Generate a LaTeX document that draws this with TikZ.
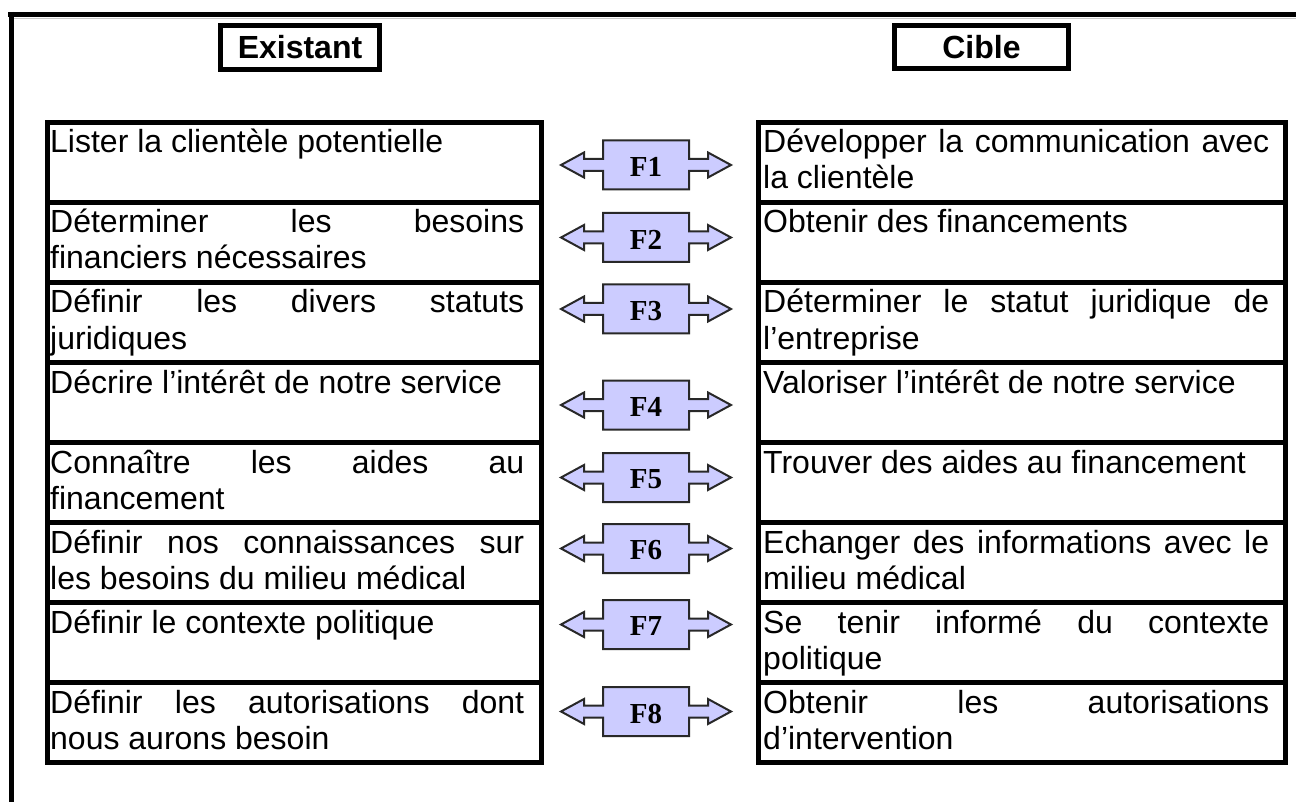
\documentclass[tikz,border=0pt]{standalone}
\usepackage{fontspec}
\setmainfont{Liberation Sans}
\newfontfamily\serifbold{Liberation Serif}
\definecolor{lav}{RGB}{204,204,255}
\definecolor{aline}{RGB}{40,40,40}
\hyphenpenalty=10000
\exhyphenpenalty=10000
\hbadness=10000
\tikzset{
  framerule/.style={line width=5pt, draw=black},
  hdrbox/.style={draw, line width=5pt, rectangle, inner sep=0pt,
     font=\fontsize{32}{36}\selectfont\bfseries},
  lcell/.style={draw, line width=5pt, rectangle, inner sep=0pt, anchor=north west,
     minimum width=494pt, minimum height=80pt},
  rcell/.style={draw, line width=5pt, rectangle, inner sep=0pt, anchor=north west,
     minimum width=527pt, minimum height=80pt},
  celltext/.style={inner sep=0pt, anchor=base west, font=\fontsize{32}{36}\selectfont},
  fshape/.style={fill=lav, draw=aline, line width=2pt, line join=miter},
  flabel/.style={inner sep=0pt, font=\serifbold\bfseries\fontsize{29}{29}\selectfont}
}
\newcommand\farrow[3]{%
  \begin{scope}[shift={(#2,#3)}]
    \draw[fshape] (-43,-24.5) -- (43,-24.5) -- (43,-6) -- (62,-6) -- (62,-12.5) -- (85,0)
      -- (62,12.5) -- (62,6) -- (43,6) -- (43,24.5) -- (-43,24.5) -- (-43,6) -- (-62,6)
      -- (-62,12.5) -- (-85,0) -- (-62,-12.5) -- (-62,-6) -- (-43,-6) -- cycle;
  \end{scope}
  \node[flabel] (#1) at (#2,#3+2) {#1};
}
\begin{document}
\begin{tikzpicture}[x=1pt,y=-1pt]
\useasboundingbox (0,0) rectangle (1296,802);
% outer frame (top and left only)
\coordinate (ftl) at (8,14.5);
\coordinate (ftr) at (1296,14.5);
\coordinate (flt) at (11,12);
\coordinate (flb) at (11,802);
\coordinate (gl) at (14,18.5);
\coordinate (gr) at (1296,18.5);
\draw[framerule] (ftl) -- (ftr);
\draw[framerule] (flt) -- (flb);
\draw[gray!45, line width=1pt] (gl) -- (gr);
% headers
\node[hdrbox, minimum width=159pt, minimum height=44pt] (hex) at (300,47.5) {Existant};
\node[hdrbox, minimum width=174pt, minimum height=43pt] (hci) at (981.5,47.5) {Cible};
% left cells
\node[lcell] (L1) at (44.5,120) {};
\node[lcell] (L2) at (44.5,200) {};
\node[lcell] (L3) at (44.5,280) {};
\node[lcell] (L4) at (44.5,360) {};
\node[lcell] (L5) at (44.5,440) {};
\node[lcell] (L6) at (44.5,520) {};
\node[lcell] (L7) at (44.5,600) {};
\node[lcell] (L8) at (44.5,680) {};
% right cells
\node[rcell] (R1) at (755.5,120) {};
\node[rcell] (R2) at (755.5,200) {};
\node[rcell] (R3) at (755.5,280) {};
\node[rcell] (R4) at (755.5,360) {};
\node[rcell] (R5) at (755.5,440) {};
\node[rcell] (R6) at (755.5,520) {};
\node[rcell] (R7) at (755.5,600) {};
\node[rcell] (R8) at (755.5,680) {};
% left texts
\node[celltext] (L1t) at (50,153) {\parbox[t]{474pt}{Lister la clientèle potentielle}};
\node[celltext] (L2t) at (50,233) {\parbox[t]{474pt}{Déterminer les besoins\linebreak financiers nécessaires}};
\node[celltext] (L3t) at (50,313) {\parbox[t]{474pt}{Définir les divers statuts\linebreak juridiques}};
\node[celltext] (L4t) at (50,393) {\parbox[t]{474pt}{Décrire l’intérêt de notre service}};
\node[celltext] (L5t) at (50,473) {\parbox[t]{474pt}{Connaître les aides au\linebreak financement}};
\node[celltext] (L6t) at (50,553) {\parbox[t]{474pt}{Définir nos connaissances sur\linebreak les besoins du milieu médical}};
\node[celltext] (L7t) at (50,633) {\parbox[t]{474pt}{Définir le contexte politique}};
\node[celltext] (L8t) at (50,713) {\parbox[t]{474pt}{Définir les autorisations dont\linebreak nous aurons besoin}};
% right texts
\node[celltext] (R1t) at (763,153) {\parbox[t]{506pt}{Développer la communication avec\linebreak la clientèle}};
\node[celltext] (R2t) at (763,233) {\parbox[t]{506pt}{Obtenir des financements}};
\node[celltext] (R3t) at (763,313) {\parbox[t]{506pt}{Déterminer le statut juridique de\linebreak l’entreprise}};
\node[celltext] (R4t) at (763,393) {\parbox[t]{506pt}{Valoriser l’intérêt de notre service}};
\node[celltext] (R5t) at (763,473) {\parbox[t]{506pt}{Trouver des aides au financement}};
\node[celltext] (R6t) at (763,553) {\parbox[t]{506pt}{Echanger des informations avec le\linebreak milieu médical}};
\node[celltext] (R7t) at (763,633) {\parbox[t]{506pt}{Se tenir informé du contexte\linebreak politique}};
\node[celltext] (R8t) at (763,713) {\parbox[t]{506pt}{Obtenir les autorisations\linebreak d’intervention}};
% double arrows
\farrow{F1}{646}{165}
\farrow{F2}{646}{237.5}
\farrow{F3}{646}{309}
\farrow{F4}{646}{405}
\farrow{F5}{646}{477.5}
\farrow{F6}{646}{548.5}
\farrow{F7}{646}{624.5}
\farrow{F8}{646}{711.5}
\end{tikzpicture}
\end{document}
